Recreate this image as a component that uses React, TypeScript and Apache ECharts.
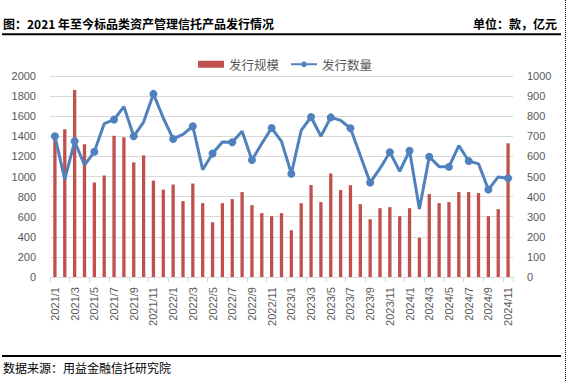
import React, { useEffect, useRef } from "react";
import * as echarts from "echarts";

const months: string[] = [
  "2021/1", "2021/2", "2021/3", "2021/4", "2021/5", "2021/6", "2021/7", "2021/8", "2021/9", "2021/10", "2021/11", "2021/12",
  "2022/1", "2022/2", "2022/3", "2022/4", "2022/5", "2022/6", "2022/7", "2022/8", "2022/9", "2022/10", "2022/11", "2022/12",
  "2023/1", "2023/2", "2023/3", "2023/4", "2023/5", "2023/6", "2023/7", "2023/8", "2023/9", "2023/10", "2023/11", "2023/12",
  "2024/1", "2024/2", "2024/3", "2024/4", "2024/5", "2024/6", "2024/7", "2024/8", "2024/9", "2024/10", "2024/11",
];

// 发行规模 (亿元), left axis
const issueScale: number[] = [
  1390, 1470, 1860, 1320, 940, 1010, 1405, 1390, 1140, 1210, 960, 870,
  920, 755, 930, 735, 545, 735, 775, 845, 715, 635, 605, 635,
  465, 735, 915, 745, 1030, 865, 913, 725, 575, 685, 695, 605,
  685, 390, 825, 735, 745, 845, 845, 835, 605, 675, 1330,
];

// 发行数量 (款), right axis
const issueCount: number[] = [
  700, 486, 675, 557, 623, 763, 783, 848, 700, 771, 911, 791,
  687, 710, 750, 534, 614, 672, 670, 725, 582, 664, 741, 675,
  514, 730, 796, 700, 794, 779, 740, 605, 470, 540, 621, 526,
  628, 338, 598, 549, 548, 654, 577, 563, 435, 498, 491,
];

const leftTicks = { min: 0, max: 2000, interval: 200 };
const rightTicks = { min: 0, max: 1000, interval: 100 };

const titleText = "图：2021 年至今标品类资产管理信托产品发行情况";
const unitText = "单位：款，亿元";
const sourceText = "数据来源：用益金融信托研究院";

export default function App() {
  const ref = useRef<HTMLDivElement>(null);
  useEffect(() => {
    if (!ref.current) return;
    const chart = echarts.init(ref.current, null, { renderer: "svg" });
    const labelColor = "#595959";
    const gridColor = "#d9d9d9";
    const numFont = "'Liberation Sans', Arial, sans-serif";
    const cjkFont = "'Noto Sans CJK SC', sans-serif";
    const plain = (v: number) => String(v);
    chart.setOption({
      animation: false,
      backgroundColor: "#ffffff",
      grid: { left: 50, right: 53, top: 76, bottom: 105, containLabel: false },
      legend: {
        left: 193,
        top: 53,
        itemWidth: 26,
        itemHeight: 7,
        itemGap: 11,
        textStyle: { color: labelColor, fontSize: 12.5, fontFamily: cjkFont },
        data: [
          { name: "发行规模", icon: "rect" },
          { name: "发行数量" },
        ],
      },
      xAxis: {
        type: "category",
        data: months,
        boundaryGap: true,
        axisLine: { show: true, lineStyle: { color: gridColor, width: 1 } },
        axisTick: { show: true, interval: 1, length: 5, lineStyle: { color: gridColor } },
        axisLabel: {
          interval: 1,
          rotate: 90,
          margin: 10,
          color: labelColor,
          fontSize: 11,
          fontFamily: numFont,
        },
      },
      yAxis: [
        {
          type: "value",
          min: leftTicks.min,
          max: leftTicks.max,
          interval: leftTicks.interval,
          axisLine: { show: false },
          axisTick: { show: false },
          splitLine: { show: true, lineStyle: { color: gridColor, width: 1 } },
          axisLabel: { color: labelColor, fontSize: 11, fontFamily: numFont, margin: 14, formatter: plain },
        },
        {
          type: "value",
          min: rightTicks.min,
          max: rightTicks.max,
          interval: rightTicks.interval,
          position: "right",
          axisLine: { show: false },
          axisTick: { show: false },
          splitLine: { show: false },
          axisLabel: { color: labelColor, fontSize: 11, fontFamily: numFont, margin: 14, formatter: plain },
        },
      ],
      series: [
        {
          name: "发行规模",
          type: "bar",
          yAxisIndex: 0,
          data: issueScale,
          barWidth: 3.3,
          itemStyle: { color: "#C0504D" },
        },
        {
          name: "发行数量",
          type: "line",
          yAxisIndex: 1,
          data: issueCount,
          symbol: "circle",
          symbolSize: 8,
          lineStyle: { color: "#4F81BD", width: 3 },
          itemStyle: { color: "#4F81BD" },
        },
      ],
      graphic: [
        {
          type: "text",
          left: 3,
          top: 17,
          style: {
            text: titleText,
            fontSize: 12,
            fontWeight: "bold",
            fontFamily: cjkFont,
            fill: "#000000",
          },
        },
        {
          type: "text",
          right: 9,
          top: 17,
          style: {
            text: unitText,
            fontSize: 12,
            fontWeight: "bold",
            fontFamily: cjkFont,
            fill: "#000000",
          },
        },
        {
          type: "line",
          shape: { x1: 2, y1: 34.3, x2: 561, y2: 34.3 },
          style: { stroke: "#000000", lineWidth: 2 },
        },
        {
          type: "line",
          shape: { x1: 2, y1: 356, x2: 561, y2: 356 },
          style: { stroke: "#000000", lineWidth: 2 },
        },
        {
          type: "text",
          left: 3,
          top: 361,
          style: {
            text: sourceText,
            fontSize: 12,
            fontFamily: cjkFont,
            fill: "#000000",
          },
        },
        {
          type: "line",
          shape: { x1: 565.5, y1: 0, x2: 565.5, y2: 382 },
          style: { stroke: "#000000", lineWidth: 1, lineDash: [1, 1] },
        },
      ],
    });
    return () => chart.dispose();
  }, []);
  return (
    <div
      ref={ref}
      style={{ position: "fixed", left: 0, top: 0, width: 566, height: 382 }}
    />
  );
}
